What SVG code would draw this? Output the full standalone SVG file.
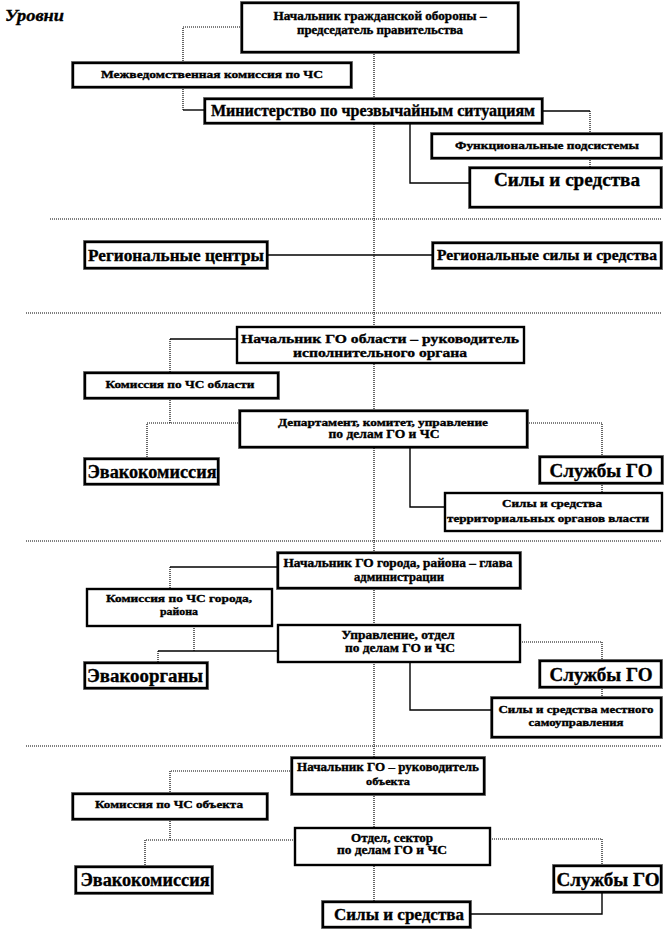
<svg xmlns="http://www.w3.org/2000/svg" width="667" height="930" viewBox="0 0 667 930">
<style>
.bx{fill:#fff;stroke:#000;stroke-width:2.4}
.bo{fill:none;stroke:#000;stroke-width:1;stroke-dasharray:1 1}
.t{font-family:"Liberation Serif","Times New Roman",serif;font-weight:bold;fill:#000;stroke:#000;stroke-width:0.35;text-anchor:middle}
.sol{fill:none;stroke:#000;stroke-width:1.4}
.dot{fill:none;stroke:#000;stroke-width:1.2;stroke-dasharray:1 1}
.sep{fill:none;stroke:#000;stroke-width:1;stroke-dasharray:1 1}
</style>
<text x="5" y="21" font-family="Liberation Serif, serif" font-weight="bold" font-style="italic" font-size="17" stroke="#000" stroke-width="0.35" textLength="59" lengthAdjust="spacingAndGlyphs">Уровни</text>
<g id="separators">
<path class="sep" d="M50,219H661M26,313H661M26,541H661M26,746H661"/>
</g>
<g id="connectors">
<path class="dot" d="M374,52V902"/>
<path class="dot" d="M242,27H183V63"/>
<path class="dot" d="M183,87V110"/>
<path class="sol" d="M183,110H205"/>
<path class="sol" d="M542,111H590"/>
<path class="dot" d="M590,111V134M590,158V168"/>
<path class="sol" d="M410,123V183H470"/>
<path class="sol" d="M267,255H433"/>
<path class="sol" d="M237,339H170"/>
<path class="dot" d="M170,339V373M170,398V423M147,459V423H240"/>
<path class="dot" d="M527,423H602V457M602,483V493"/>
<path class="sol" d="M410,447V507H445"/>
<path class="sol" d="M278,567H170"/>
<path class="dot" d="M170,567V589M194,626V651"/>
<path class="sol" d="M278,651H158"/>
<path class="dot" d="M158,651V663"/>
<path class="dot" d="M520,642H602V661M602,687V698"/>
<path class="sol" d="M410,662V710H492"/>
<path class="dot" d="M292,771H170V794M170,819V840M145,867V840H295"/>
<path class="dot" d="M490,839H602V866"/>
<path class="sol" d="M602,892V914H470"/>
</g>
<g font-family="Liberation Serif, serif">
<g id="n1"><rect class="bx" x="242" y="3" width="276" height="49"/><rect class="bo" x="240.5" y="1.5" width="279" height="52"/>
<text class="t" x="380" y="20" font-size="11.5" textLength="213" lengthAdjust="spacingAndGlyphs">Начальник гражданской обороны –</text>
<text class="t" x="380" y="34" font-size="11.5" textLength="166" lengthAdjust="spacingAndGlyphs">председатель правительства</text></g>
<g id="n2"><rect class="bx" x="73" y="63" width="278" height="24"/><rect class="bo" x="71.5" y="61.5" width="281" height="27"/>
<text class="t" x="212" y="78" font-size="11" textLength="222" lengthAdjust="spacingAndGlyphs">Межведомственная комиссия по ЧС</text></g>
<g id="n3"><rect class="bx" x="205" y="99" width="337" height="24"/><rect class="bo" x="203.5" y="97.5" width="340" height="27"/>
<text class="t" x="373" y="116" font-size="16" textLength="324" lengthAdjust="spacingAndGlyphs">Министерство по чрезвычайным ситуациям</text></g>
<g id="n4"><rect class="bx" x="432" y="134" width="229" height="24"/><rect class="bo" x="430.5" y="132.5" width="232" height="27"/>
<text class="t" x="547" y="149" font-size="11" textLength="184" lengthAdjust="spacingAndGlyphs">Функциональные подсистемы</text></g>
<g id="n5"><rect class="bx" x="470" y="168" width="191" height="39"/><rect class="bo" x="468.5" y="166.5" width="194" height="42"/>
<text class="t" x="567" y="186" font-size="19" textLength="146" lengthAdjust="spacingAndGlyphs">Силы и средства</text></g>
<g id="n6"><rect class="bx" x="85" y="242" width="182" height="26"/><rect class="bo" x="83.5" y="240.5" width="185" height="29"/>
<text class="t" x="176" y="261" font-size="17" textLength="176" lengthAdjust="spacingAndGlyphs">Региональные центры</text></g>
<g id="n7"><rect class="bx" x="433" y="243" width="228" height="25"/><rect class="bo" x="431.5" y="241.5" width="231" height="28"/>
<text class="t" x="547" y="260" font-size="14" textLength="220" lengthAdjust="spacingAndGlyphs">Региональные силы и средства</text></g>
<g id="n8"><rect class="bx" x="237" y="327" width="287" height="36"/>
<text class="t" x="380" y="343" font-size="13.5" textLength="278" lengthAdjust="spacingAndGlyphs">Начальник ГО области – руководитель</text>
<text class="t" x="380" y="357" font-size="13.5" textLength="174" lengthAdjust="spacingAndGlyphs">исполнительного органа</text></g>
<g id="n9"><rect class="bx" x="85" y="373" width="193" height="25"/><rect class="bo" x="83.5" y="371.5" width="196" height="28"/>
<text class="t" x="180" y="388" font-size="11" textLength="149" lengthAdjust="spacingAndGlyphs">Комиссия по ЧС области</text></g>
<g id="n10"><rect class="bx" x="240" y="411" width="287" height="36"/><rect class="bo" x="238.5" y="409.5" width="290" height="39"/>
<text class="t" x="383" y="426" font-size="11" textLength="210" lengthAdjust="spacingAndGlyphs">Департамент, комитет, управление</text>
<text class="t" x="384" y="438" font-size="12" textLength="111" lengthAdjust="spacingAndGlyphs">по делам ГО и ЧС</text></g>
<g id="n11"><rect class="bx" x="85" y="459" width="133" height="25"/><rect class="bo" x="83.5" y="457.5" width="136" height="28"/>
<text class="t" x="152" y="478" font-size="18" textLength="129" lengthAdjust="spacingAndGlyphs">Эвакокомиссия</text></g>
<g id="n12"><rect class="bx" x="540" y="457" width="122" height="26"/><rect class="bo" x="538.5" y="455.5" width="125" height="29"/>
<text class="t" x="601" y="477" font-size="19" textLength="103" lengthAdjust="spacingAndGlyphs">Службы ГО</text></g>
<g id="n13"><rect class="bx" x="445" y="493" width="217" height="38"/>
<text class="t" x="552" y="507" font-size="10.5" textLength="100" lengthAdjust="spacingAndGlyphs">Силы и средства</text>
<text class="t" x="548" y="522" font-size="10.5" textLength="202" lengthAdjust="spacingAndGlyphs">территориальных органов власти</text></g>
<g id="n14"><rect class="bx" x="278" y="553" width="242" height="35"/><rect class="bo" x="276.5" y="551.5" width="245" height="38"/>
<text class="t" x="398" y="567" font-size="11.5" textLength="229" lengthAdjust="spacingAndGlyphs">Начальник ГО города, района – глава</text>
<text class="t" x="399" y="581" font-size="11.5" textLength="90" lengthAdjust="spacingAndGlyphs">администрации</text></g>
<g id="n15"><rect class="bx" x="87" y="589" width="185" height="37"/>
<text class="t" x="179" y="602" font-size="11" textLength="146" lengthAdjust="spacingAndGlyphs">Комиссия по ЧС города,</text>
<text class="t" x="179" y="615" font-size="11" textLength="38" lengthAdjust="spacingAndGlyphs">района</text></g>
<g id="n16"><rect class="bx" x="278" y="625" width="242" height="37"/>
<text class="t" x="398" y="639" font-size="11.5" textLength="113" lengthAdjust="spacingAndGlyphs">Управление, отдел</text>
<text class="t" x="400" y="652" font-size="12" textLength="110" lengthAdjust="spacingAndGlyphs">по делам ГО и ЧС</text></g>
<g id="n17"><rect class="bx" x="85" y="663" width="122" height="25"/><rect class="bo" x="83.5" y="661.5" width="125" height="28"/>
<text class="t" x="145" y="682" font-size="18" textLength="116" lengthAdjust="spacingAndGlyphs">Эвакоорганы</text></g>
<g id="n18"><rect class="bx" x="540" y="661" width="121" height="26"/><rect class="bo" x="538.5" y="659.5" width="124" height="29"/>
<text class="t" x="601" y="681" font-size="19" textLength="103" lengthAdjust="spacingAndGlyphs">Службы ГО</text></g>
<g id="n19"><rect class="bx" x="492" y="698" width="169" height="39"/><rect class="bo" x="490.5" y="696.5" width="172" height="42"/>
<text class="t" x="576" y="713" font-size="10.5" textLength="155" lengthAdjust="spacingAndGlyphs">Силы и средства местного</text>
<text class="t" x="576" y="726" font-size="10.5" textLength="95" lengthAdjust="spacingAndGlyphs">самоуправления</text></g>
<g id="n20"><rect class="bx" x="292" y="758" width="192" height="36"/><rect class="bo" x="290.5" y="756.5" width="195" height="39"/>
<text class="t" x="388" y="771" font-size="12" textLength="182" lengthAdjust="spacingAndGlyphs">Начальник ГО – руководитель</text>
<text class="t" x="388" y="785" font-size="11" textLength="44" lengthAdjust="spacingAndGlyphs">объекта</text></g>
<g id="n21"><rect class="bx" x="73" y="794" width="194" height="25"/><rect class="bo" x="71.5" y="792.5" width="197" height="28"/>
<text class="t" x="169" y="808" font-size="11" textLength="148" lengthAdjust="spacingAndGlyphs">Комиссия по ЧС объекта</text></g>
<g id="n22"><rect class="bx" x="295" y="828" width="195" height="37"/>
<text class="t" x="392" y="842" font-size="11.5" textLength="82" lengthAdjust="spacingAndGlyphs">Отдел, сектор</text>
<text class="t" x="392" y="854" font-size="12" textLength="110" lengthAdjust="spacingAndGlyphs">по делам ГО и ЧС</text></g>
<g id="n23"><rect class="bx" x="76" y="867" width="136" height="26"/><rect class="bo" x="74.5" y="865.5" width="139" height="29"/>
<text class="t" x="145" y="886" font-size="18" textLength="129" lengthAdjust="spacingAndGlyphs">Эвакокомиссия</text></g>
<g id="n24"><rect class="bx" x="554" y="866" width="107" height="26"/><rect class="bo" x="552.5" y="864.5" width="110" height="29"/>
<text class="t" x="608" y="886" font-size="18" textLength="103" lengthAdjust="spacingAndGlyphs">Службы ГО</text></g>
<g id="n25"><rect class="bx" x="323" y="902" width="147" height="25"/><rect class="bo" x="321.5" y="900.5" width="150" height="28"/>
<text class="t" x="399" y="920" font-size="17" textLength="130" lengthAdjust="spacingAndGlyphs">Силы и средства</text></g>
</g>
</svg>
